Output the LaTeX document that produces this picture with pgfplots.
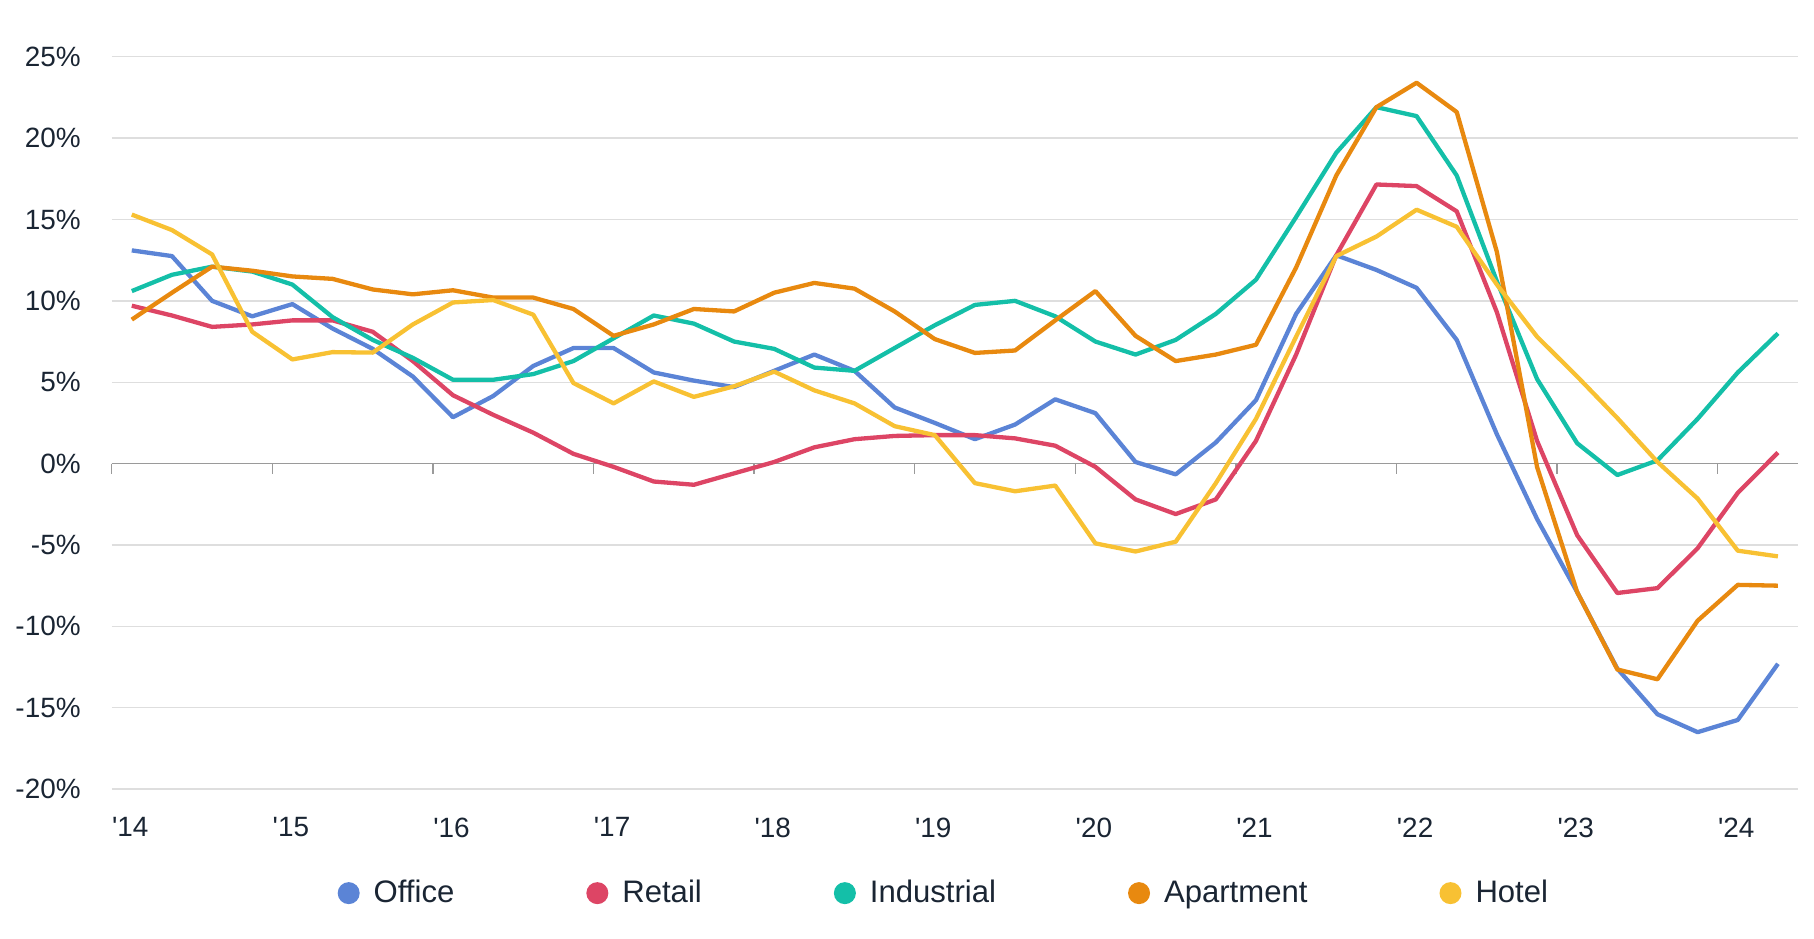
\documentclass[border=0pt]{standalone}
\usepackage{pgfplots}
\pgfplotsset{compat=1.18}
\usepackage{pgfplotstable}
\usepackage{fontspec}
\setmainfont{Liberation Sans}
\definecolor{office}{HTML}{5B84D6}
\definecolor{retail}{HTML}{DD4565}
\definecolor{industrial}{HTML}{14BFA8}
\definecolor{apartment}{HTML}{E8890F}
\definecolor{hotel}{HTML}{F8C133}
\definecolor{txt}{HTML}{1A2533}
\definecolor{gridgray}{HTML}{DEDEDE}
\definecolor{zerogray}{HTML}{9A9A9A}

% x = years after the start of 2014 (quarter midpoints)
\pgfplotstableread{
x office retail industrial apartment hotel
0.125 13.1 9.7 10.6 8.85 15.3
0.375 12.75 9.1 11.6 10.5 14.35
0.625 10.0 8.4 12.1 12.1 12.85
0.875 9.05 8.55 11.8 11.85 8.1
1.125 9.8 8.8 11.0 11.5 6.4
1.375 8.3 8.8 9.0 11.35 6.85
1.625 7.05 8.1 7.6 10.7 6.82
1.875 5.35 6.3 6.5 10.4 8.55
2.125 2.85 4.2 5.15 10.65 9.9
2.375 4.15 3.0 5.15 10.2 10.05
2.625 6.0 1.9 5.5 10.2 9.15
2.875 7.1 0.6 6.3 9.5 4.95
3.125 7.1 -0.2 7.7 7.85 3.7
3.375 5.6 -1.1 9.1 8.55 5.05
3.625 5.1 -1.3 8.6 9.5 4.1
3.875 4.7 -0.6 7.5 9.35 4.75
4.125 5.7 0.1 7.05 10.5 5.65
4.375 6.7 1.0 5.9 11.1 4.5
4.625 5.7 1.5 5.7 10.75 3.7
4.875 3.45 1.7 7.1 9.35 2.3
5.125 2.5 1.75 8.5 7.65 1.75
5.375 1.5 1.75 9.75 6.8 -1.2
5.625 2.4 1.55 10.0 6.95 -1.7
5.875 3.95 1.1 9.05 8.8 -1.35
6.125 3.1 -0.2 7.5 10.6 -4.9
6.375 0.1 -2.2 6.7 7.85 -5.4
6.625 -0.66 -3.1 7.6 6.3 -4.8
6.875 1.3 -2.2 9.2 6.7 -1.2
7.125 3.9 1.4 11.3 7.3 2.75
7.375 9.2 6.7 15.15 12.05 7.8
7.625 12.8 12.8 19.1 17.7 12.75
7.875 11.9 17.15 21.9 21.9 13.95
8.125 10.8 17.05 21.35 23.4 15.6
8.375 7.6 15.5 17.7 21.6 14.55
8.625 1.8 9.3 11.2 13.0 11.0
8.875 -3.4 1.4 5.2 -0.2 7.8
9.125 -7.9 -4.4 1.25 -7.9 5.35
9.375 -12.6 -7.95 -0.7 -12.65 2.8
9.625 -15.4 -7.65 0.2 -13.25 0.1
9.875 -16.5 -5.2 2.75 -9.65 -2.15
10.125 -15.75 -1.8 5.6 -7.45 -5.35
10.375 -12.3 0.68 8.0 -7.5 -5.7
}\data

\begin{document}
\begin{tikzpicture}
\begin{axis}[
  name=ax,
  scale only axis,
  width=843bp, height=366.15bp,
  xmin=0, xmax=10.5,
  ymin=-20, ymax=25,
  axis line style={draw=none},
  xtick={0,1,...,10},
  xticklabels={\textquotesingle 14,\textquotesingle 15,\textquotesingle 16,\textquotesingle 17,\textquotesingle 18,\textquotesingle 19,\textquotesingle 20,\textquotesingle 21,\textquotesingle 22,\textquotesingle 23,\textquotesingle 24},
  ytick={-20,-15,...,25},
  yticklabels={-20\%,-15\%,-10\%,-5\%,0\%,5\%,10\%,15\%,20\%,25\%},
  major tick length=0pt,
  ymajorgrids,
  grid style={color=gridgray, line width=0.7bp},
  tick label style={font=\fontsize{14}{16}\selectfont, text=txt},
  xticklabel style={anchor=north west, inner sep=0pt, yshift=-14bp},
  yticklabel style={anchor=east, inner sep=0pt, xshift=-15.35bp},
  legend columns=5,
  legend style={at={(0.4929,-0.142)}, anchor=center, draw=none, fill=none,
    font=\fontsize{15.6}{18}\selectfont, text=txt, inner sep=0pt,
    nodes={inner sep=0pt},
    /tikz/every odd column/.append style={column sep=7bp},
    /tikz/every even column/.append style={column sep=66bp}},
  legend image code/.code={\fill[#1, draw=none] (0bp,0bp) circle (5.5bp);},
  every axis plot/.append style={line width=2.15bp, line join=round},
  clip=false,
]
\draw[zerogray, line width=0.75bp] (axis cs:0,0) -- (axis cs:10.5,0);
\pgfplotsinvokeforeach{0,1,...,10}{\draw[zerogray, line width=0.75bp] (axis cs:#1,0) -- ([yshift=-5bp]axis cs:#1,0);}
\addplot[office, no markers] table[x=x, y=office] {\data};
\addlegendentry{Office}
\addplot[retail, no markers] table[x=x, y=retail] {\data};
\addlegendentry{Retail}
\addplot[industrial, no markers] table[x=x, y=industrial] {\data};
\addlegendentry{Industrial}
\addplot[apartment, no markers] table[x=x, y=apartment] {\data};
\addlegendentry{Apartment}
\addplot[hotel, no markers] table[x=x, y=hotel] {\data};
\addlegendentry{Hotel}
\end{axis}
\pgfresetboundingbox
\path ([shift={(-55.85bp,-74.5bp)}]ax.south west) rectangle ([shift={(8bp,28.35bp)}]ax.north east);
\end{tikzpicture}
\end{document}
